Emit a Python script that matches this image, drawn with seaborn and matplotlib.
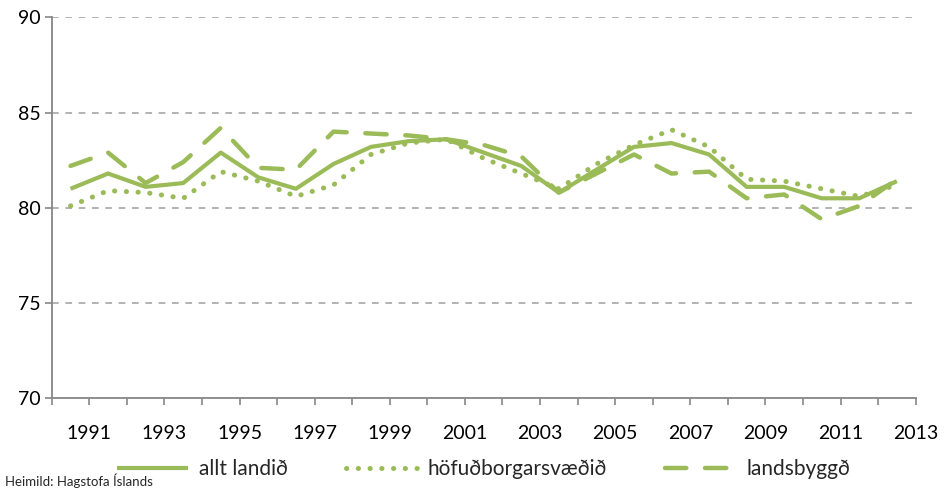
import matplotlib
matplotlib.use('Agg')
import matplotlib.pyplot as plt
import seaborn as sns
import pandas as pd
import numpy as np

# values (23 points per series)
allt_landid = [81.0, 81.8, 81.1, 81.3, 82.9, 81.6, 81.0, 82.3, 83.2, 83.5, 83.6, 82.9,
               82.2, 80.8, 82.0, 83.2, 83.4, 82.8, 81.1, 81.1, 80.5, 80.5, 81.4]
hofudborgarsvaedid = [80.1, 80.9, 80.8, 80.5, 81.9, 81.4, 80.6, 81.2, 82.8, 83.4, 83.6, 82.6,
                      81.8, 81.0, 82.3, 83.3, 84.1, 83.2, 81.5, 81.4, 81.0, 80.6, 81.2]
landsbyggd = [82.2, 82.9, 81.3, 82.4, 84.2, 82.1, 82.0, 84.0, 83.9, 83.8, 83.6, 83.3,
              82.7, 80.8, 81.8, 82.8, 81.8, 81.9, 80.5, 80.7, 79.4, 80.1, 81.5]
series_names = ['allt landið', 'höfuðborgarsvæðið', 'landsbyggð']
tick_years = ['1991', '1993', '1995', '1997', '1999', '2001',
              '2003', '2005', '2007', '2009', '2011', '2013']

green = '#9BBB59'
sns.set_theme(style='white')
plt.rcParams['font.family'] = ['Lato', 'DejaVu Sans']

fig = plt.figure(figsize=(9.44, 4.96), dpi=100)
ax = fig.add_axes([0.0548, 0.197, 0.9152, 0.768])

pos = np.arange(len(allt_landid)) + 0.5
styles = [dict(linestyle='-', linewidth=3.0),
          dict(linestyle=(0, (0.05, 2.3)), linewidth=3.6),
          dict(linestyle=(0, (4.8, 4.2)), linewidth=3.2)]
for name, vals, st in zip(series_names, [allt_landid, hofudborgarsvaedid, landsbyggd], styles):
    df = pd.DataFrame({'x': pos, 'y': vals})
    sns.lineplot(data=df, x='x', y='y', ax=ax, color=green, label=name, **st)

for ln in ax.get_lines():
    ln.set_dash_capstyle('round')
    ln.set_solid_capstyle('butt')

ax.set_xlim(0, len(allt_landid))
ax.set_ylim(70, 90)
ax.set_yticks([70, 75, 80, 85, 90])
# tick marks at every category boundary, labels on every other one (Excel style)
ax.set_xticks(np.arange(0, len(allt_landid) + 1, 2), minor=True)
ax.set_xticks(np.arange(1, len(allt_landid) + 1, 2))
ax.set_xticklabels(tick_years)
ax.set_xlabel('')
ax.set_ylabel('')

for y in [75, 80, 85, 90]:
    ax.axhline(y, color='#A6A6A6', linestyle=(0, (4, 4)), linewidth=1.2, zorder=0)

for s in ['top', 'right']:
    ax.spines[s].set_visible(False)
for s in ['left', 'bottom']:
    ax.spines[s].set_color('#868686')
    ax.spines[s].set_linewidth(1.3)

ax.tick_params(axis='both', which='both', bottom=True, left=True, length=5, width=1.2,
               color='#868686', direction='out', labelsize=14, labelcolor='black')
ax.tick_params(axis='x', which='major', pad=14)
ax.tick_params(axis='y', pad=3)

leg = ax.legend(loc='upper center', bbox_to_anchor=(0.5, -0.11), ncol=3, frameon=False,
                fontsize=15, handlelength=3.4, columnspacing=2.8, handletextpad=0.5)

fig.text(0.005, 0.02, 'Heimild: Hagstofa Íslands', fontsize=9.5)

fig.savefig('out.png', dpi=100)
